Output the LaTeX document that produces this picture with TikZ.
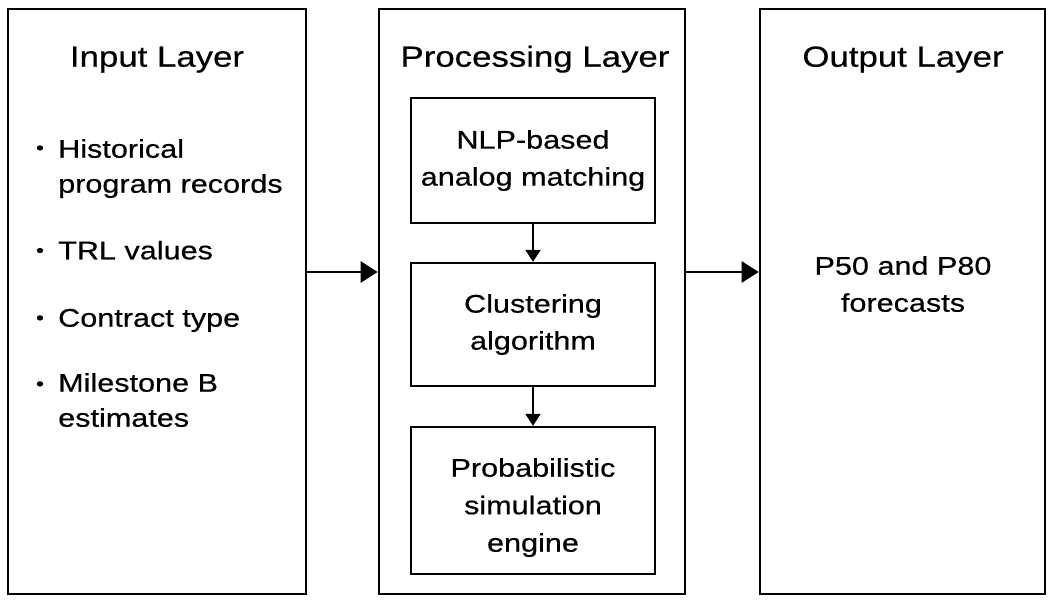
\documentclass[tikz,border=0pt]{standalone}
\usepackage{fontspec}
\setmainfont{Liberation Sans}[FakeStretch=1.2,FakeBold=0.5]
\usetikzlibrary{arrows.meta}

\begin{document}
\begin{tikzpicture}[x=1pt,y=-1pt,
        laysty/.style={rectangle,draw,line width=2.6pt,
            minimum width=#1,minimum height=585pt},
        boxsty/.style={rectangle,draw,line width=2.3pt,align=center,
            minimum width=244pt,font=\fontsize{25.5}{37}\selectfont},
        ttlsty/.style={anchor=base,font=\fontsize{29}{34}\selectfont},
        itsty/.style={anchor=base west,align=left,inner sep=0pt,
            font=\fontsize{25.5}{35}\selectfont},
        bsty/.style={anchor=base,inner sep=0pt,yshift=2.5pt,
            font=\fontsize{19}{19}\selectfont},
        bigarr/.style={line width=2.5pt,-{Triangle[length=17pt,width=21pt]}},
        smarr/.style={line width=2pt,-{Triangle[length=12pt,width=15pt]}},
    ]
    \useasboundingbox (0,0) rectangle (1061,601);
    % layers
    \node (inl) at (157,301.5) [laysty=298pt] {};
    \node (proc) at (532,301.5) [laysty=306pt] {};
    \node (outl) at (902.5,301.5) [laysty=285pt] {};
    \node (inttl) at (157,66.7) [ttlsty] {Input Layer};
    \node (procttl) at (535,66.7) [ttlsty] {Processing Layer};
    \node (outttl) at (903,66.7) [ttlsty] {Output Layer};
    % input items (base = last line)
    \foreach \n/\y/\z/\t in {1/156.7/192.7/{Historical\\program records},
            2/259.3/259.3/{TRL values},3/326.7/326.7/{Contract type},
            4/392.7/426.7/{Milestone B\\estimates}}{
        \node (b\n) at (40,\y) [bsty] {•};
        \node (it\n) at (58,\z) [itsty] {\t};
    }
    % processing steps
    \node (nlp) at (533,160.5) [boxsty,minimum height=125pt]
        {NLP-based\\analog matching};
    \node (clu) at (533,324.5) [boxsty,minimum height=123pt]
        {Clustering\\algorithm};
    \node (sim) at (533,500.5) [boxsty,minimum height=147pt] {};
    \node (simtxt) at (533,551.7) [anchor=base,align=center,
        font=\fontsize{25.5}{37.5}\selectfont]
        {Probabilistic\\simulation\\engine};
    \draw[smarr] (nlp) -- (clu);
    \draw[smarr] (clu) -- (sim);
    % output
    \node (fc) at (903,311.7) [anchor=base,align=center,
        font=\fontsize{25.5}{37}\selectfont] {P50 and P80\\forecasts};
    \draw[bigarr] ([yshift=29.5pt]inl.east) -- ([yshift=29.5pt]proc.west);
    \draw[bigarr] ([yshift=29.5pt]proc.east) -- ([yshift=29.5pt]outl.west);
\end{tikzpicture}
\end{document}
